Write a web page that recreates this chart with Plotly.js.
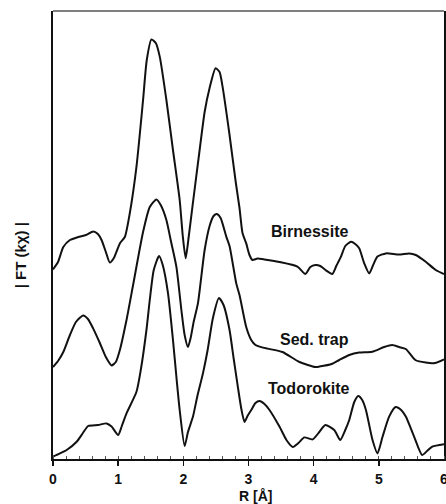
<!DOCTYPE html>
<html>
<head>
<meta charset="utf-8">
<script src="https://cdn.plot.ly/plotly-3.0.1.min.js"></script>
<style>
  html, body { margin: 0; padding: 0; background: #fff; }
  #chart { width: 446px; height: 504px; }
</style>
</head>
<body>
<div id="chart"></div>
<script>
// R [Å] and |FT(kχ)| (arbitrary units, curves stacked as in the figure)
const birnessiteR = [0.0,0.077,0.158,0.260,0.387,0.505,0.617,0.689,0.745,0.811,0.872,0.934,1.026,1.102,1.179,1.281,1.382,1.439,1.511,1.577,1.638,1.740,1.841,1.944,1.990,2.036,2.082,2.143,2.250,2.327,2.403,2.495,2.556,2.602,2.705,2.806,2.862,2.908,2.965,3.015,3.061,3.138,3.245,3.475,3.750,3.873,3.949,4.026,4.102,4.194,4.286,4.347,4.419,4.485,4.572,4.638,4.699,4.776,4.852,4.913,4.979,5.108,5.311,5.465,5.567,5.720,5.873,6.0];
const birnessiteFT = [47.4,49.25,53.0,54.75,55.5,56.0,56.9,56.25,54.75,51.75,49.1,50.25,53.9,55.5,61.5,73.1,89.75,99.75,104.9,104.0,100.6,89.75,77.25,64.75,56.0,50.2,55.5,63.5,77.25,86.75,92.75,97.7,96.75,93.1,81.5,69.0,62.75,56.5,53.9,51.0,49.75,50.1,49.9,49.25,48.1,46.25,48.0,48.5,48.25,47.1,46.25,48.25,50.6,53.25,54.3,53.75,52.7,48.9,46.4,48.5,50.6,51.4,51.1,51.4,51.0,49.3,47.25,46.25];

const sedTrapR = [0.0,0.077,0.158,0.260,0.352,0.464,0.536,0.617,0.719,0.811,0.899,0.964,1.026,1.128,1.229,1.382,1.485,1.587,1.653,1.740,1.806,1.893,1.970,2.020,2.071,2.112,2.158,2.224,2.327,2.403,2.464,2.515,2.572,2.659,2.709,2.812,2.862,2.965,3.042,3.107,3.169,3.291,3.521,3.781,4.026,4.087,4.286,4.393,4.546,4.699,4.898,5.082,5.204,5.311,5.414,5.561,5.720,5.862,6.0];
const sedTrapFT = [23.0,24.5,26.75,31.0,34.25,35.9,35.0,32.6,29.0,25.5,23.4,24.25,27.25,34.75,43.5,56.75,63.0,64.9,63.5,59.75,54.75,48.1,37.25,31.0,28.0,30.25,34.25,38.9,52.25,58.25,60.75,61.25,60.25,55.6,53.25,43.9,41.0,33.0,29.75,28.5,28.1,27.6,26.75,24.25,23.0,23.1,23.8,24.75,26.0,26.6,26.8,28.0,28.5,28.0,27.5,24.75,24.1,24.0,24.9];

const todorokiteR = [0.0,0.107,0.210,0.363,0.459,0.540,0.693,0.822,0.899,1.000,1.056,1.128,1.281,1.347,1.434,1.485,1.546,1.627,1.684,1.765,1.841,1.898,1.944,2.020,2.071,2.148,2.219,2.301,2.373,2.454,2.546,2.617,2.709,2.771,2.836,2.893,2.939,2.985,3.042,3.107,3.169,3.245,3.322,3.475,3.582,3.678,3.766,3.857,3.984,4.087,4.179,4.316,4.408,4.485,4.546,4.623,4.684,4.745,4.802,4.903,4.979,5.056,5.158,5.258,5.342,5.414,5.541,5.664,5.740,5.821,6.0];
const todorokiteFT = [0.6,1.4,2.25,4.3,6.5,8.25,8.5,8.9,8.1,6.0,8.25,11.4,16.8,22.25,32.25,39.75,47.25,50.75,48.5,41.4,29.75,19.75,12.25,3.25,6.75,10.6,16.0,21.4,27.25,35.25,40.25,38.5,32.25,25.25,18.1,12.25,9.25,10.75,12.25,14.0,14.5,13.75,12.25,8.1,4.75,3.0,4.0,5.4,4.9,6.75,8.5,7.25,4.75,7.25,9.75,14.25,15.75,14.75,12.25,4.75,1.4,5.5,10.6,13.0,12.25,10.6,5.6,1.0,2.0,3.1,3.7];

const seriesNames = ["Birnessite", "Sed. trap", "Todorokite"];
const labelR = [3.93, 4.02, 3.93];
const labelFT = [57.0, 29.9, 17.6];
const xTickVals = [0, 1, 2, 3, 4, 5, 6];
const xTickText = ["0", "1", "2", "3", "4", "5", "6"];

const FONT = "Liberation Sans, Arial, Helvetica, sans-serif";
const tickFont = {family: FONT, size: 14, color: "#111", weight: "bold"};
const lineStyle = {color: "#111", width: 2, shape: "spline", smoothing: 0.6};

const traces = [
  {x: birnessiteR, y: birnessiteFT, name: seriesNames[0]},
  {x: sedTrapR, y: sedTrapFT, name: seriesNames[1]},
  {x: todorokiteR, y: todorokiteFT, name: seriesNames[2]}
].map(t => Object.assign(t, {type: "scatter", mode: "lines", line: lineStyle, hoverinfo: "x+y"}));

const annotations = seriesNames.map((n, i) => ({
  x: labelR[i], y: labelFT[i], xref: "x", yref: "y", text: n, showarrow: false,
  font: {family: FONT, size: 16, color: "#111", weight: "bold"}
}));
// last tick label sits on the page edge (partly cut, as in the figure)
const lastIdx = xTickVals.length - 1;
annotations.push({
  x: xTickVals[lastIdx], y: 0, xref: "x", yref: "y", text: xTickText[lastIdx], showarrow: false,
  xanchor: "center", yanchor: "top", yshift: -10, font: tickFont
});
annotations.push({
  x: 0.517, y: -0.0835, xref: "paper", yref: "paper", text: "R [Å]", showarrow: false,
  xanchor: "center", yanchor: "middle", font: {family: FONT, size: 14, color: "#111", weight: "bold"}
});
annotations.push({
  x: -0.084, y: 0.455, xref: "paper", yref: "paper", text: "| FT (kχ) |", showarrow: false,
  xanchor: "center", yanchor: "middle",
  textangle: -90, font: {family: FONT, size: 15, color: "#111", weight: "bold"}
});

const layout = {
  width: 446, height: 504,
  margin: {l: 53, r: 2, t: 11, b: 45},
  paper_bgcolor: "#fff", plot_bgcolor: "#fff",
  showlegend: false,
  xaxis: {
    range: [0, 6], showgrid: false, zeroline: false,
    showline: true, linecolor: "#111", linewidth: 2,
    tickvals: xTickVals.slice(0, lastIdx), ticktext: xTickText.slice(0, lastIdx),
    ticks: "outside", ticklen: 5, tickwidth: 1.5, tickcolor: "#111",
    ticklabelstandoff: 1,
    tickfont: tickFont,
    minor: {ticks: "inside", ticklen: 3, dtick: 0.2, tickcolor: "#555", tickwidth: 1}
  },
  yaxis: {
    range: [0, 112], showgrid: false, zeroline: false,
    showline: true, mirror: true, linecolor: "#111", linewidth: 2,
    showticklabels: false, ticks: ""
  },
  shapes: [{type: "line", xref: "paper", yref: "paper", x0: 0, x1: 1, y0: 1, y1: 1,
            line: {color: "#555", width: 1.5}}],
  annotations: annotations
};

Plotly.newPlot("chart", traces, layout, {displayModeBar: false, staticPlot: true});
</script>
</body>
</html>
